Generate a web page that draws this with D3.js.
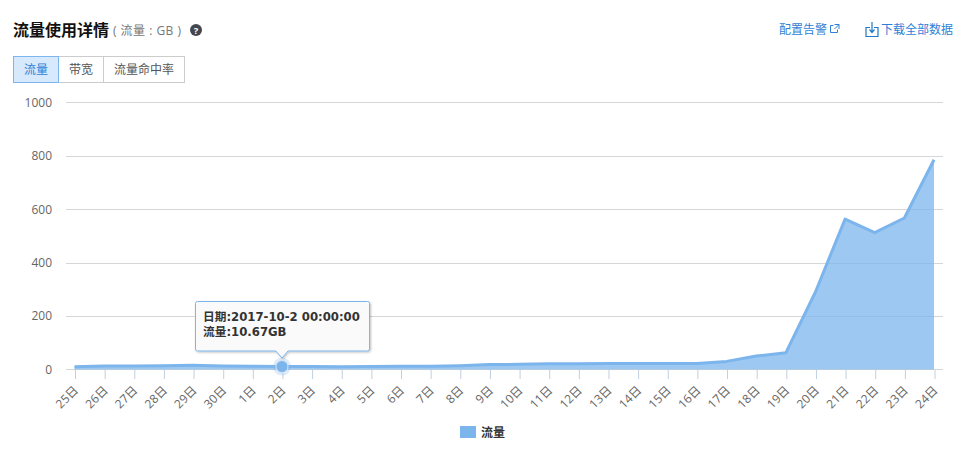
<!DOCTYPE html>
<html><head><meta charset="utf-8">
<script src="https://cdn.jsdelivr.net/npm/d3@7/dist/d3.min.js"></script>
<style>
html,body{margin:0;padding:0;background:#fff;overflow:hidden}
svg{display:block}
text{font-family:"Open Sans","Noto Sans CJK SC",sans-serif}
</style></head><body><div id="c"></div>
<script>
const categories=["25日","26日","27日","28日","29日","30日","1日","2日","3日","4日","5日","6日","7日","8日","9日","10日","11日","12日","13日","14日","15日","16日","17日","18日","19日","20日","21日","22日","23日","24日"];
const values=[10,13,13,14,16,13,12,10.67,11,10,11,12,12,14,18,19,21,21,22,22,22,22,30,50,62,290,563,512,567,785];
const yTicks=[0,200,400,600,800,1000];
const tabs=["流量","带宽","流量命中率"];
const tooltipLines=["日期:2017-10-2 00:00:00","流量:10.67GB"];
const activeIndex=7;

const W=956,H=451;
const svg=d3.select("#c").append("svg").attr("width",W).attr("height",H);
const x=d3.scalePoint().domain(categories).range([74.5,934]);
const y=d3.scaleLinear().domain([0,1000]).range([369.4,102.4]);
const CJK='"Noto Sans CJK SC",sans-serif';

// header
svg.append("text").attr("x",13).attr("y",35.5).attr("font-size",16).attr("font-weight",700).attr("fill","#111").style("font-family",CJK).text("流量使用详情");
svg.append("text").attr("x",113).attr("y",35).attr("font-size",12).attr("fill","#777").style("white-space","pre").text("( 流量 : GB )").attr("textLength",68);
svg.append("circle").attr("cx",196).attr("cy",30).attr("r",6).attr("fill","#41464f");
svg.append("text").attr("x",196).attr("y",33.5).attr("text-anchor","middle").attr("font-size",9.5).attr("font-weight",700).attr("fill","#fff").text("?");

svg.append("text").attr("x",779).attr("y",34).attr("font-size",12).attr("fill","#2f7fd6").text("配置告警");
const ext=svg.append("g").attr("fill","none").attr("stroke","#2f7fd6").attr("stroke-width",1);
ext.append("path").attr("d","M833.5 25.5h-3v7h7v-3");
ext.append("path").attr("d","M834.5 24.5h4.5v4.5M839 24.5l-4.5 4.5");
const dl=svg.append("g").attr("fill","none").attr("stroke","#1f78c8").attr("stroke-width",1.2);
dl.append("path").attr("d","M870 27.5h-4v9h12v-9h-4");
dl.append("path").attr("d","M872 22v10M869.5 29.5l2.5 3 2.5-3");
svg.append("text").attr("x",881).attr("y",34).attr("font-size",12).attr("fill","#2f7fd6").text("下载全部数据");

// tabs
const tabW=[45,45,81];let tx=13.5;
tabs.forEach((s,i)=>{
  svg.append("rect").attr("x",tx).attr("y",56.5).attr("width",tabW[i]).attr("height",26)
    .attr("fill",i==0?"#d6e9fd":"#fff").attr("stroke","#ccc");
  svg.append("text").attr("x",tx+tabW[i]/2).attr("y",74).attr("text-anchor","middle").attr("font-size",12)
    .attr("fill",i==0?"#2f7fd6":"#555").text(s);
  tx+=tabW[i];
});
svg.append("rect").attr("x",13.5).attr("y",56.5).attr("width",45).attr("height",26).attr("fill","none").attr("stroke","#7db5ee");

// grid and y axis
const gy=svg.append("g").attr("transform","translate(67,0)")
  .call(d3.axisLeft(y).tickValues(yTicks).tickFormat(d3.format("d")).tickSize(0).tickPadding(15));
gy.select(".domain").remove();
gy.selectAll("text").attr("font-size",12).attr("fill","#666");
svg.append("g").selectAll("line").data(yTicks).join("line")
  .attr("x1",66).attr("x2",943).attr("y1",d=>Math.round(y(d))+.5).attr("y2",d=>Math.round(y(d))+.5).attr("stroke","#d6d6d6");

// area and line
const pts=categories.map((c,i)=>({c,v:values[i]}));
svg.append("path").datum(pts).attr("fill","#7cb5ec").attr("fill-opacity",.75)
  .attr("d",d3.area().x(d=>x(d.c)).y0(y(0)).y1(d=>y(d.v)));
svg.append("path").datum(pts).attr("fill","none").attr("stroke","#7cb5ec").attr("stroke-width",3).attr("stroke-linejoin","round")
  .attr("d",d3.line().x(d=>x(d.c)).y(d=>y(d.v)));

// x axis
const gx=svg.append("g").attr("transform","translate(0,370)")
  .call(d3.axisBottom(x).tickSize(9).tickPadding(2));
gx.select(".domain").remove();
gx.selectAll("line").attr("stroke","#c0d0e0").attr("transform","translate(.5,0)");
gx.selectAll("text").attr("font-size",12).attr("fill","#666").attr("text-anchor","end")
  .attr("dy",0).attr("y",0).attr("x",0)
  .attr("transform","translate(4,21) rotate(-45)");

// hover marker
const ax=x(categories[activeIndex]),ay=y(values[activeIndex]);
svg.append("circle").attr("cx",ax).attr("cy",ay).attr("r",9).attr("fill","#7cb5ec").attr("fill-opacity",.25);
svg.append("circle").attr("cx",ax).attr("cy",ay).attr("r",6).attr("fill","#7cb5ec").attr("stroke","#d6e6f8").attr("stroke-width",1);

// tooltip
const defs=svg.append("defs");
const f=defs.append("filter").attr("id","s").attr("x","-10%").attr("y","-10%").attr("width","120%").attr("height","130%");
f.append("feDropShadow").attr("dx",1).attr("dy",1).attr("stdDeviation",1).attr("flood-color","#000").attr("flood-opacity",.25);
const bx=195.5,by=301.5,bw=174,bh=49.5;
svg.append("path").attr("filter","url(#s)").attr("fill","#fbfbfb").attr("fill-opacity",.97).attr("stroke","#7cb5ec")
  .attr("stroke-linejoin","round")
  .attr("d",`M${bx+2} ${by}H${bx+bw-2}Q${bx+bw} ${by} ${bx+bw} ${by+2}V${by+bh-2}Q${bx+bw} ${by+bh} ${bx+bw-2} ${by+bh}H${ax+6}L${ax} ${by+bh+7}L${ax-6} ${by+bh}H${bx+2}Q${bx} ${by+bh} ${bx} ${by+bh-2}V${by+2}Q${bx} ${by} ${bx+2} ${by}Z`);
tooltipLines.forEach((s,i)=>{
  svg.append("text").attr("x",203).attr("y",320.5+i*15.5).attr("font-size",11.7).attr("font-weight",700).attr("fill","#333")
    .style("font-family",'"DejaVu Sans","Noto Sans CJK SC",sans-serif').text(s);
});

// legend
svg.append("rect").attr("x",460).attr("y",426).attr("width",16).attr("height",12).attr("fill","#7cb5ec");
svg.append("text").attr("x",481).attr("y",437).attr("font-size",12).attr("font-weight",700).attr("fill","#333").text("流量");
</script></body></html>
